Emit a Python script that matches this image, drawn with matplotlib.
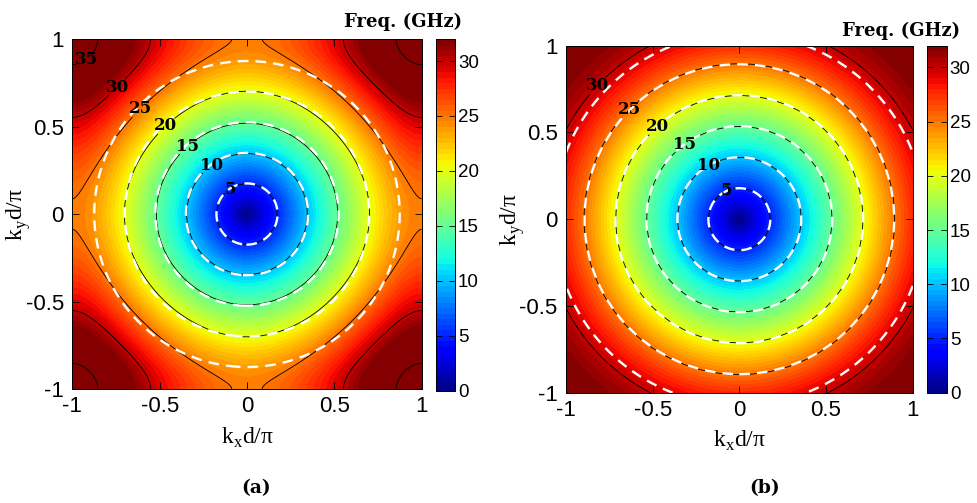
import matplotlib
matplotlib.use("Agg")
import matplotlib.pyplot as plt
import numpy as np

plt.rcParams['font.family'] = ['Liberation Sans', 'DejaVu Sans']
plt.rcParams['axes.unicode_minus'] = False

# contour levels (GHz)
line_levels_a = [5, 10, 15, 20, 25, 30, 35]
line_levels_b = [5, 10, 15, 20, 25, 30]
dash_levels_a = [5, 10, 15, 20, 25]
dash_levels_b = [5, 10, 15, 20, 25, 30]
cbar_ticks = [0, 5, 10, 15, 20, 25, 30]
axis_ticks = [-1, -0.5, 0, 0.5, 1]
f_max = 32
f_step = 0.5

# dispersion parameters
# (a) square-lattice band: slope at Gamma, zone-edge flattening, cross coupling
slope_a = 29.0
edge_pow_a = 7
cross_a = 0.15
# (b) nearly isotropic band: slope, knee radius, knee sharpness
slope_b = 28.1
knee_r_b = 1.17
knee_pow_b = 10
# light-line reference (white dashed circles)
light_a = 28.6
light_b = 28.0

# where the contour labels sit
label_pos_a = [(-0.11, 0.16), (-0.20, 0.27), (-0.35, 0.40), (-0.47, 0.51),
               (-0.63, 0.62), (-0.775, 0.756), (-0.91, 0.87)]
label_pos_b = [(-0.08, 0.18), (-0.17, 0.30), (-0.32, 0.43), (-0.48, 0.54),
               (-0.68, 0.68), (-0.85, 0.80)]

k = np.linspace(-1, 1, 501)
KX, KY = np.meshgrid(k, k)
R = np.hypot(KX, KY)


def band_a(kx, ky):
    fx = slope_a * (np.abs(kx) - np.abs(kx) ** edge_pow_a / edge_pow_a)
    fy = slope_a * (np.abs(ky) - np.abs(ky) ** edge_pow_a / edge_pow_a)
    return np.sqrt(fx ** 2 + fy ** 2 + cross_a * fx ** 2 * fy ** 2 / slope_a ** 2)


def band_b(r):
    return slope_b * r / (1 + (r / knee_r_b) ** knee_pow_b) ** (1 / knee_pow_b)


freq_a = band_a(KX, KY)
freq_b = band_b(R)

fig = plt.figure(figsize=(9.77, 5.03), dpi=100)
fill_levels = np.arange(0, f_max + f_step / 2, f_step)

panels = [
    dict(f=freq_a, light=light_a, lines=line_levels_a, dashes=dash_levels_a,
         labels=label_pos_a, ax=[0.074, 0.2266, 0.3576, 0.6958],
         cax=[0.4463, 0.2233, 0.0195, 0.699], tag='(a)', tag_x=0.262,
         freq_xy=(0.4125, 0.956)),
    dict(f=freq_b, light=light_b, lines=line_levels_b, dashes=dash_levels_b,
         labels=label_pos_b, ax=[0.5793, 0.2193, 0.3549, 0.6899],
         cax=[0.9488, 0.2193, 0.0205, 0.6899], tag='(b)', tag_x=0.783,
         freq_xy=(0.922, 0.938)),
]

for p in panels:
    ax = fig.add_axes(p['ax'])
    cf = ax.contourf(KX, KY, np.minimum(p['f'], f_max), levels=fill_levels,
                     cmap='jet', vmin=0, vmax=f_max)
    cs = ax.contour(KX, KY, p['f'], levels=p['lines'], colors='k',
                    linewidths=0.6)
    ax.contour(KX, KY, p['light'] * R, levels=p['dashes'], colors='white',
               linewidths=1.7, linestyles=[(0, (4.5, 3))])
    texts = ax.clabel(cs, fmt='%d', manual=p['labels'], inline=True,
                      inline_spacing=2, fontsize=12, colors='k')
    for t in texts:
        t.set_rotation(0)
        t.set_fontfamily('DejaVu Serif')
        t.set_fontweight('bold')

    ax.set_xlim(-1, 1)
    ax.set_ylim(-1, 1)
    ax.set_xticks(axis_ticks)
    ax.set_yticks(axis_ticks)
    ax.set_xticklabels(['-1', '-0.5', '0', '0.5', '1'])
    ax.set_yticklabels(['-1', '-0.5', '0', '0.5', '1'])
    ax.tick_params(direction='in', length=5, width=0.6, labelsize=16,
                   top=True, right=True)
    ax.tick_params(axis='y', pad=6)
    ax.tick_params(axis='x', pad=5)
    for s in ax.spines.values():
        s.set_linewidth(0.7)

    ax.set_xlabel(r'k$_\mathregular{x}$d/π', fontfamily='Liberation Serif',
                  fontsize=17)
    ax.set_ylabel(r'k$_\mathregular{y}$d/π', fontfamily='Liberation Serif',
                  fontsize=17)
    ax.xaxis.set_label_coords(0.5, -0.105)
    ax.yaxis.set_label_coords(-0.112, 0.5)

    cax = fig.add_axes(p['cax'])
    cb = fig.colorbar(cf, cax=cax)
    cb.set_ticks(cbar_ticks)
    cb.ax.tick_params(direction='in', length=4, width=0.6, labelsize=13.5,
                      left=True, right=True, pad=2)
    cb.outline.set_linewidth(0.7)

    fig.text(p['freq_xy'][0], p['freq_xy'][1], 'Freq. (GHz)',
             fontfamily='DejaVu Serif', fontweight='bold', fontsize=13,
             ha='center', va='center')
    fig.text(p['tag_x'], 0.030, p['tag'], fontfamily='DejaVu Serif',
             fontweight='bold', fontsize=13.5, ha='center', va='center')

fig.savefig('out.png', dpi=100)
